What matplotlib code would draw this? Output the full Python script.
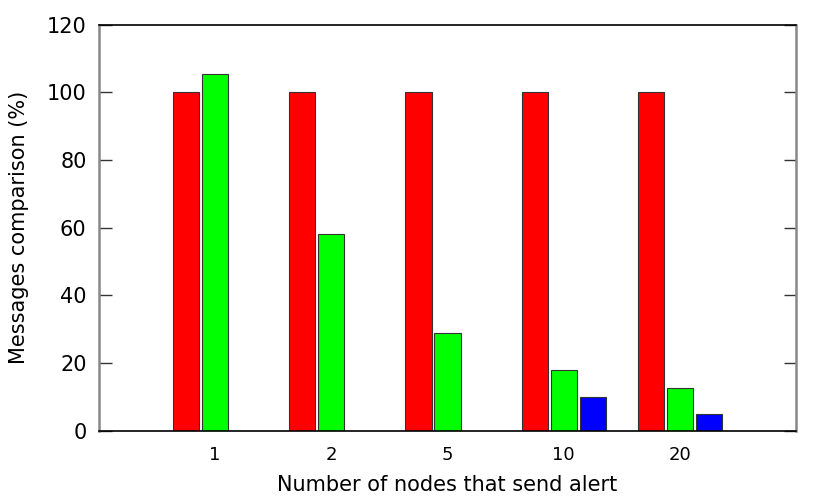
import matplotlib
matplotlib.use("Agg")
import matplotlib.pyplot as plt
import numpy as np

categories = ["1", "2", "5", "10", "20"]
red_values = [100, 100, 100, 100, 100]
green_values = [105.3, 58.0, 28.7, 18.0, 12.5]
blue_values = [0, 0, 0, 10.0, 5.0]
yticks = [0, 20, 40, 60, 80, 100, 120]

fig = plt.figure(figsize=(8.3, 4.98), dpi=100)
ax = fig.add_axes([0.1193, 0.1355, 0.9590 - 0.1193, 0.9508 - 0.1355])

x = np.arange(len(categories))
w = 0.225
off = 0.25
ec = "#333333"
ax.bar(x - off, red_values, w, color="#ff0000", edgecolor=ec, linewidth=0.8, zorder=2)
ax.bar(x, green_values, w, color="#00ff00", edgecolor=ec, linewidth=0.8, zorder=2)
bx = [xi + off for xi, v in zip(x, blue_values) if v > 0]
bv = [v for v in blue_values if v > 0]
ax.bar(bx, bv, w, color="#0000ff", edgecolor=ec, linewidth=0.8, zorder=2)

ax.set_xlim(-1, 5)
ax.set_ylim(0, 120)
ax.set_yticks(yticks)
ax.set_yticklabels([str(t) for t in yticks], fontsize=15)
ax.set_xticks(x)
ax.set_xticklabels(categories, fontsize=13)
ax.tick_params(axis="x", length=0, pad=11)
ax.tick_params(axis="y", direction="in", length=9, width=1, color="#333333",
               right=True, left=True, pad=9)

for s in ["left", "right"]:
    ax.spines[s].set_color("#888888")
    ax.spines[s].set_linewidth(1.8)
for s in ["top", "bottom"]:
    ax.spines[s].set_color("black")
    ax.spines[s].set_linewidth(1.2)

ax.set_xlabel("Number of nodes that send alert", fontsize=15, labelpad=8)
ax.set_ylabel("Messages comparison (%)", fontsize=15, labelpad=13)

fig.savefig("out.png", dpi=100)
